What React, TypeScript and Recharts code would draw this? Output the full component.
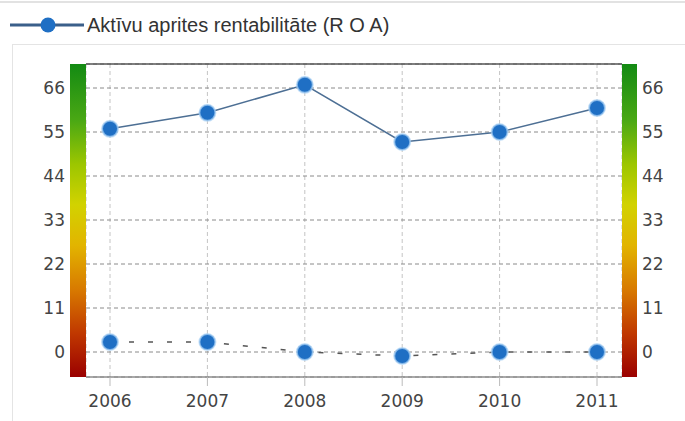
import React from 'react';
import { LineChart, Line, XAxis, YAxis, CartesianGrid, ReferenceLine } from 'recharts';

const years = ['2006', '2007', '2008', '2009', '2010', '2011'];
const roaValues = [55.8, 59.8, 66.8, 52.5, 55, 61];
const secondValues = [2.5, 2.5, 0, -1, 0, 0];
const yTicks = [0, 11, 22, 33, 44, 55, 66];
const yDomain = [-6.25, 72];
const seriesName = 'Aktīvu aprites rentabilitāte (R O A)';

const data = years.map((year, i) => ({ year, roa: roaValues[i], second: secondValues[i] }));

const W = 685;
const H = 421;
const tickFont = "'DejaVu Sans', sans-serif";
const gradient =
  'linear-gradient(to bottom, #138a13 0%, #4aa814 18%, #9cc600 32%, #d2d200 45%, #e2b400 58%, #d87a00 72%, #c03800 86%, #9a0000 100%)';

const dotStyle = { r: 8, fill: '#1f6fc4', stroke: 'rgba(170,210,245,0.7)', strokeWidth: 2, strokeDasharray: '' };

export default function App() {
  return (
    <div style={{ position: 'absolute', left: 0, top: 0, width: W, height: H, overflow: 'hidden', background: '#fff' }}>
      <div style={{ position: 'absolute', left: 0, top: 1, width: W, height: 2, background: '#e2e2e2' }} />
      <div
        style={{
          position: 'absolute',
          left: 12,
          top: 44,
          width: W,
          height: H,
          border: '1px solid #e4e4e4',
          boxSizing: 'border-box',
        }}
      />
      <div style={{ position: 'absolute', left: 10, top: 13, display: 'flex', alignItems: 'center', height: 24 }}>
        <svg width={74} height={24} style={{ display: 'block' }}>
          <line x1={0} y1={12} x2={74} y2={12} stroke="#3a5f8a" strokeWidth={3} />
          <circle cx={38} cy={12} r={7.5} fill="#1f6fc4" />
        </svg>
        <span
          style={{
            fontFamily: "'Liberation Sans', Arial, sans-serif",
            fontSize: 20,
            color: '#333',
            marginLeft: 3,
            lineHeight: '24px',
          }}
        >
          {seriesName}
        </span>
      </div>
      <div style={{ position: 'absolute', left: 0, top: 0 }}>
        <LineChart width={W} height={H} data={data} margin={{ top: 64, right: 0, bottom: 0, left: 0 }}>
          <CartesianGrid yAxisId="left" horizontal={false} stroke="#c4c4c4" strokeDasharray="4 3" />
          <CartesianGrid yAxisId="left" vertical={false} stroke="#8a8a8a" strokeDasharray="4 3" />
          <XAxis
            dataKey="year"
            height={44}
            padding={{ left: 24, right: 25 }}
            axisLine={{ stroke: '#8c8c8c', strokeWidth: 1.5 }}
            tickLine={{ stroke: '#bbb' }}
            tickSize={9}
            tickMargin={9}
            tick={{ fill: '#444', fontSize: 17, fontFamily: tickFont }}
          />
          <YAxis
            yAxisId="left"
            width={86}
            domain={yDomain}
            ticks={yTicks}
            allowDataOverflow
            axisLine={false}
            tickLine={false}
            tickSize={0}
            tickMargin={21}
            tick={{ fill: '#444', fontSize: 17, fontFamily: tickFont }}
          />
          <YAxis
            yAxisId="right"
            orientation="right"
            width={63}
            domain={yDomain}
            ticks={yTicks}
            allowDataOverflow
            axisLine={false}
            tickLine={false}
            tickSize={0}
            tickMargin={20}
            tick={{ fill: '#444', fontSize: 17, fontFamily: tickFont, textAnchor: 'start' }}
          />
          <ReferenceLine yAxisId="left" y={yDomain[1]} stroke="#555" strokeWidth={1.5} ifOverflow="visible" />
          <Line
            yAxisId="left"
            dataKey="second"
            name="second"
            legendType="none"
            stroke="#555"
            strokeWidth={1.5}
            strokeDasharray="5 14"
            dot={dotStyle}
            isAnimationActive={false}
          />
          <Line
            yAxisId="left"
            dataKey="roa"
            name={seriesName}
            stroke="#4d6f94"
            strokeWidth={1.5}
            dot={dotStyle}
            isAnimationActive={false}
          />
        </LineChart>
      </div>
      <div style={{ position: 'absolute', left: 70, top: 64, width: 16, height: 313, background: gradient }} />
      <div style={{ position: 'absolute', left: 622, top: 64, width: 15, height: 313, background: gradient }} />
    </div>
  );
}
